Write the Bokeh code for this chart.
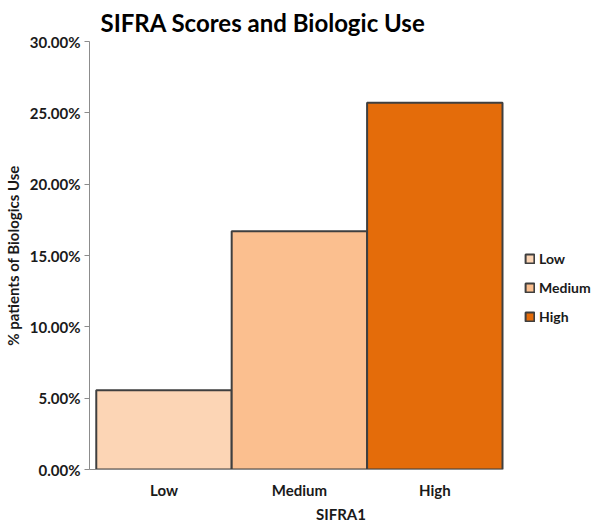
from bokeh.plotting import figure
from bokeh.models import ColumnDataSource, Range1d, FixedTicker, NumeralTickFormatter, Legend, LegendItem
from bokeh.embed import file_html
from bokeh.resources import INLINE
import numpy as np

categories = ["Low", "Medium", "High"]
values = [0.0555, 0.1670, 0.2570]
colors = ["#FCD5B5", "#FBBF8F", "#E46C0A"]
y_ticks = [0.0, 0.05, 0.10, 0.15, 0.20, 0.25, 0.30]

xpos = list(np.arange(len(categories)) + 0.5)
src = ColumnDataSource(dict(x=xpos, top=values, color=colors, cat=categories))

FONT = "Lato"
TXT = "#1a1a1a"
X0, X1 = -0.05, float(len(categories))      # extent of the drawn x axis
X_END = X0 + (X1 - X0) * 503 / 413           # extra room on the right for the legend

p = figure(frame_width=503, frame_height=428,
           x_range=Range1d(X0, X_END), y_range=Range1d(0, 0.3),
           output_backend="svg", toolbar_location=None,
           title="SIFRA Scores and Biologic Use", min_border_left=2, min_border_right=0,
           min_border_top=5, min_border_bottom=0)

r = p.vbar(x="x", top="top", width=1.0, bottom=0, fill_color="color",
           line_color="#3f3f3f", line_width=2, source=src)

p.title.text_font = FONT
p.title.text_font_size = "24px"
p.title.text_font_style = "bold"
p.title.align = "left"
p.title.offset = 11
p.title.text_color = "#000000"

p.grid.visible = False
p.outline_line_color = None
p.background_fill_color = "white"

p.yaxis.ticker = FixedTicker(ticks=y_ticks)
p.yaxis.formatter = NumeralTickFormatter(format="0.00%")
p.yaxis.minor_tick_line_color = None
p.yaxis.major_tick_in = 0
p.yaxis.major_tick_out = 5
p.yaxis.axis_line_color = "#8c8c8c"
p.yaxis.major_tick_line_color = "#8c8c8c"
p.yaxis.major_label_text_font = FONT
p.yaxis.major_label_text_font_style = "bold"
p.yaxis.major_label_text_font_size = "15px"
p.yaxis.major_label_text_color = TXT
p.yaxis.major_label_standoff = 4
p.yaxis.axis_label = "% patients of Biologics Use"
p.yaxis.axis_label_text_font = FONT
p.yaxis.axis_label_text_font_style = "bold"
p.yaxis.axis_label_text_font_size = "15px"
p.yaxis.axis_label_text_color = TXT
p.yaxis.axis_label_standoff = 5

p.xaxis.bounds = (X0, X1)
p.xaxis.ticker = FixedTicker(ticks=xpos)
p.xaxis.major_label_overrides = {float(x): c for x, c in zip(xpos, categories)}
p.xaxis.major_tick_line_color = None
p.xaxis.minor_tick_line_color = None
p.xaxis.axis_line_color = "#8c8c8c"
p.xaxis.major_label_text_font = FONT
p.xaxis.major_label_text_font_style = "bold"
p.xaxis.major_label_text_font_size = "15px"
p.xaxis.major_label_text_color = TXT
p.xaxis.major_label_standoff = 5
p.xaxis.axis_label = "SIFRA1"
p.xaxis.axis_label_text_font = FONT
p.xaxis.axis_label_text_font_style = "bold"
p.xaxis.axis_label_text_font_size = "15px"
p.xaxis.axis_label_text_color = TXT
p.xaxis.axis_label_standoff = 3

items = [LegendItem(label=c, renderers=[r], index=i) for i, c in enumerate(categories)]
legend = Legend(items=items, location=(435, 144), border_line_color=None,
                glyph_width=11, glyph_height=11, spacing=12, label_standoff=4,
                label_text_font=FONT, label_text_font_style="bold",
                label_text_font_size="14px", label_text_color=TXT,
                margin=0, padding=2, background_fill_alpha=0)
p.add_layout(legend)

open("out.html", "w").write(file_html(p, INLINE))
